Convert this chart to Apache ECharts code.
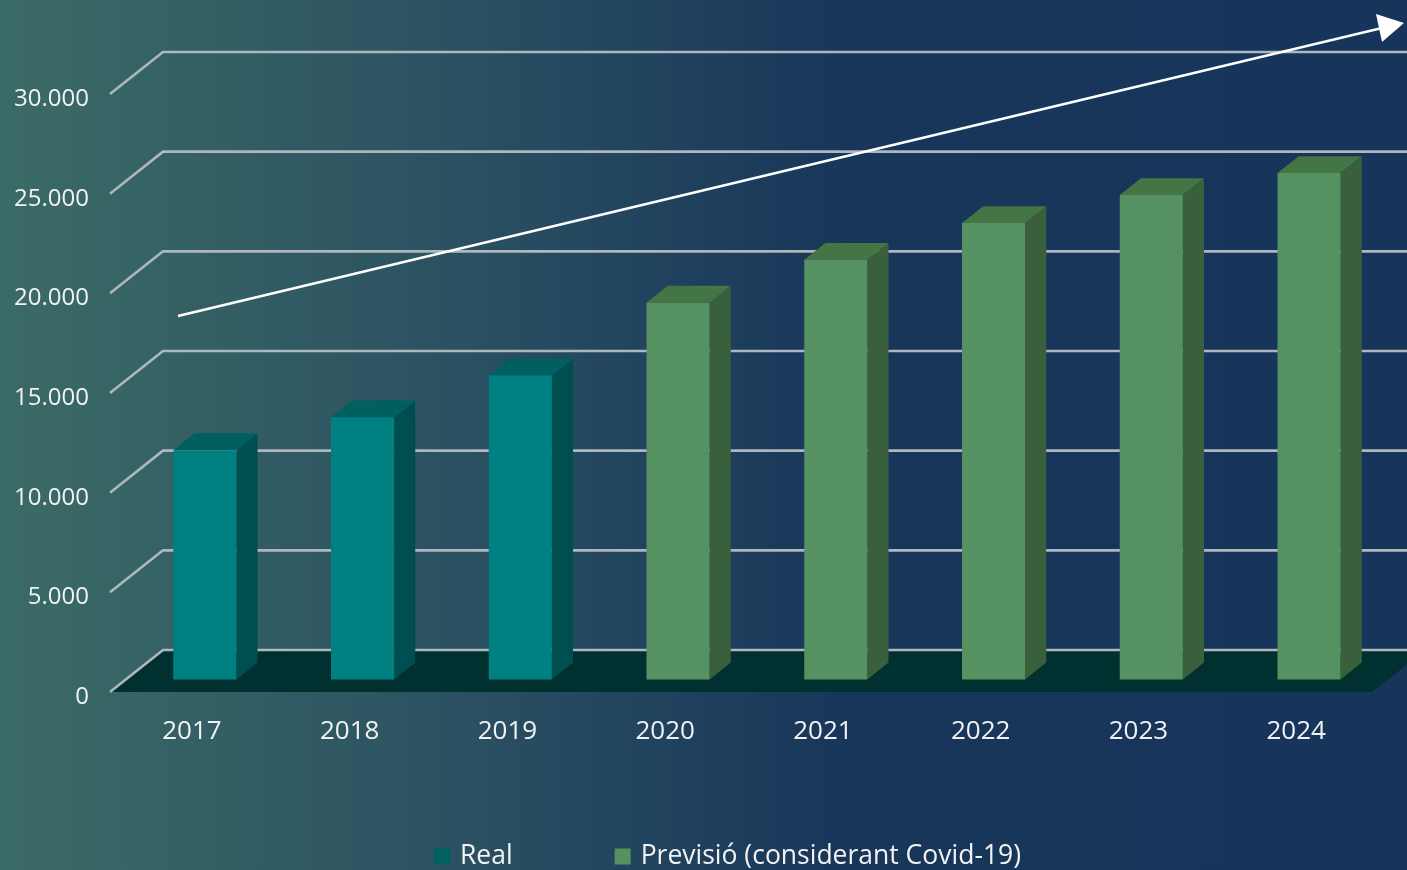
<!DOCTYPE html>
<html><head><meta charset="utf-8">
<script src="https://cdn.jsdelivr.net/npm/echarts@6/dist/echarts.min.js"></script>
<style>html,body{margin:0;padding:0;overflow:hidden;}#c{width:1407px;height:870px;}</style>
</head><body><div id="c"></div>
<script>
// ---- data ----
const categories = ['2017','2018','2019','2020','2021','2022','2023','2024'];
const realValues = [11500, 13150, 15250, null, null, null, null, null];
const forecastValues = [null, null, null, 18900, 21050, 22900, 24300, 25400];
const yTicks = [0, 5000, 10000, 15000, 20000, 25000, 30000];
const seriesNames = ['Real', 'Previsió (considerant Covid-19)'];

// ---- 3D look ----
const DEPTH_X = 53, DEPTH_Y = -42;
const BAR_FRONT = 0.3, BAR_BACK = 0.7, BAR_WIDTH_FRAC = 0.4;
const realColors = {front:'#008080', side:'#004f50', top:'#006060'};
const forecastColors = {front:'#559161', side:'#395f3d', top:'#447545'};
const FONT = "'Open Sans', 'Noto Sans', sans-serif";

function boxRender(colors){
  return function(params, api){
    const v = api.value(1);
    if (v == null || isNaN(v)) return;
    const idx = api.value(0);
    const base = api.coord([idx, 0]);
    const top = api.coord([idx, v]);
    const bw = api.size([1, 0])[0] * BAR_WIDTH_FRAC;
    const ox = DEPTH_X * BAR_FRONT, oy = DEPTH_Y * BAR_FRONT;
    const dx = DEPTH_X * (BAR_BACK - BAR_FRONT), dy = DEPTH_Y * (BAR_BACK - BAR_FRONT);
    const x0 = base[0] - bw / 2 + ox, x1 = base[0] + bw / 2 + ox;
    const yb = base[1] + oy, yt = top[1] + oy;
    return {type:'group', children:[
      {type:'polygon', shape:{points:[[x1,yb],[x1+dx,yb+dy],[x1+dx,yt+dy],[x1,yt]]}, style:{fill:colors.side}},
      {type:'polygon', shape:{points:[[x0,yt],[x1,yt],[x1+dx,yt+dy],[x0+dx,yt+dy]]}, style:{fill:colors.top}},
      {type:'rect', shape:{x:x0, y:yt, width:bw, height:yb-yt}, style:{fill:colors.front}}
    ]};
  };
}

function wallRender(params, api){
  const cs = params.coordSys;
  const t = api.value(1);
  const y = api.coord([0, t])[1];
  const gx = cs.x, gw = cs.width;
  const children = [];
  if (t === 0) {
    children.push({type:'polygon', shape:{points:[[gx,y],[gx+gw,y],[gx+gw+DEPTH_X,y+DEPTH_Y],[gx+DEPTH_X,y+DEPTH_Y]]},
      style:{fill:'#00302f'}});
  }
  children.push({type:'polyline', shape:{points:[[gx,y],[gx+DEPTH_X,y+DEPTH_Y],[gx+gw+DEPTH_X+40,y+DEPTH_Y]]},
    style:{stroke:'#aeb6be', lineWidth:2.6, fill:null}});
  return {type:'group', children};
}

const chart = echarts.init(document.getElementById('c'), null, {renderer:'canvas'});
chart.setOption({
  animation:false,
  backgroundColor:{type:'linear', x:0, y:0, x2:1, y2:0,
    colorStops:[{offset:0, color:'#3b6b66'},{offset:0.3, color:'#2c5362'},{offset:0.6, color:'#18365a'},{offset:1, color:'#17345a'}]},
  grid:{left:110, right:35, top:94, bottom:178, containLabel:false},
  legend:{
    data: seriesNames, left:434, top:843, padding:0, itemGap:102,
    itemWidth:16, itemHeight:16, icon:'rect',
    textStyle:{color:'#f2f2f2', fontSize:26.5, fontFamily:FONT, lineHeight:26, padding:[0,0,0,5]}
  },
  xAxis:{type:'category', data:categories, boundaryGap:true,
    axisLine:{show:false}, axisTick:{show:false}, splitLine:{show:false},
    axisLabel:{color:'#f2f2f2', fontSize:26, fontFamily:FONT, margin:27, padding:[0,0,0,6]}},
  yAxis:{type:'value', min:0, max:30000, interval:5000,
    axisLine:{show:false}, axisTick:{show:false}, splitLine:{show:false},
    axisLabel:{color:'#f2f2f2', fontSize:24, fontFamily:FONT, margin:21, verticalAlign:'top', lineHeight:10,
      formatter:v => String(v).replace(/\B(?=(\d{3})+(?!\d))/g, '.')}},
  graphic:[
    {type:'line', shape:{x1:178, y1:316, x2:1382, y2:28}, style:{stroke:'#ffffff', lineWidth:2.5}, z:100},
    {type:'polygon', shape:{points:[[1404,23],[1376,14],[1382,42]]}, style:{fill:'#ffffff'}, z:100}
  ],
  series:[
    {type:'custom', name:'walls', silent:true, clip:false, z:1, renderItem:wallRender,
      data: yTicks.map(t => [0, t])},
    {type:'custom', name:seriesNames[0], clip:false, z:3, itemStyle:{color:'#00625e'},
      renderItem:boxRender(realColors), data: realValues.map((v,i) => [i, v])},
    {type:'custom', name:seriesNames[1], clip:false, z:3, itemStyle:{color:'#559161'},
      renderItem:boxRender(forecastColors), data: forecastValues.map((v,i) => [i, v])}
  ]
});
</script></body></html>
